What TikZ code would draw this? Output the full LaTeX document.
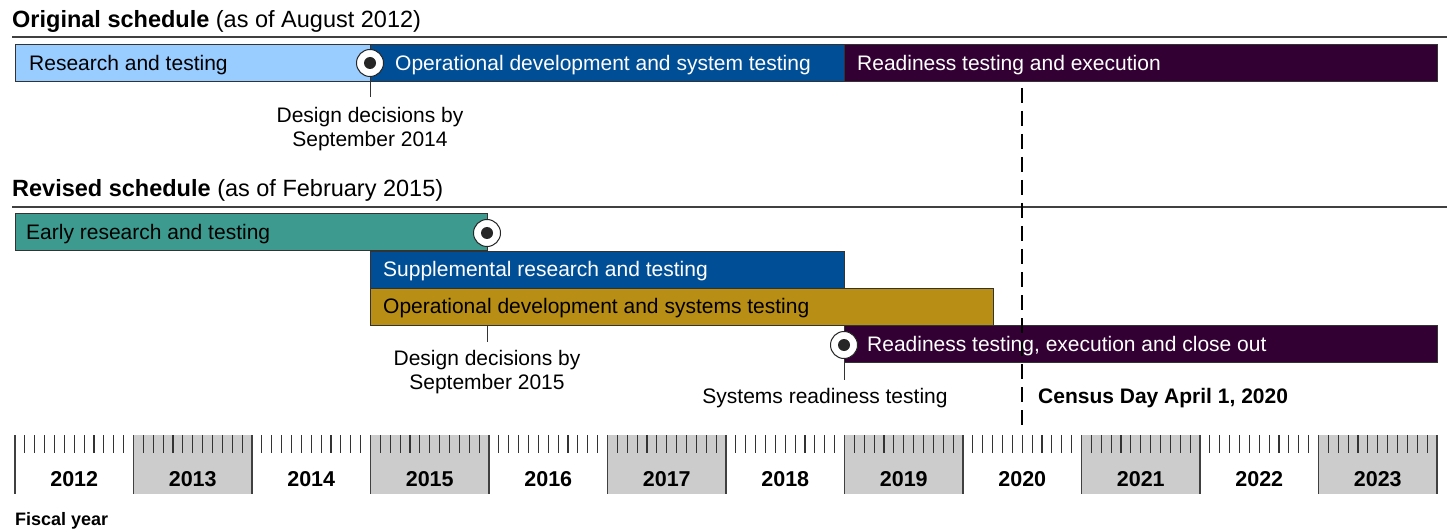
\documentclass[tikz,border=0pt]{standalone}
\usepackage{fontspec}
\setmainfont{Liberation Sans}
\definecolor{lblue}{HTML}{99CCFF}
\definecolor{dblue}{HTML}{004E96}
\definecolor{dpurple}{HTML}{330033}
\definecolor{teal2}{HTML}{3D9A8E}
\definecolor{gold2}{HTML}{B88E14}
\definecolor{cellgray}{HTML}{CCCCCC}
\definecolor{rulegray}{HTML}{404040}
\tikzset{
  bar/.style={draw=black!80, line width=0.8pt, anchor=north west, minimum height=37pt, inner sep=0pt},
  bartext/.style={anchor=west, inner sep=0pt, font=\fontsize{21}{24}\selectfont},
  title/.style={anchor=west, inner sep=0pt, font=\fontsize{23.5}{26}\selectfont},
  lab/.style={align=center, inner sep=0pt, font=\fontsize{21}{24}\selectfont},
  msring/.style={circle, draw=black!85, line width=1pt, fill=white, minimum size=27pt, inner sep=0pt},
  msdot/.style={circle, fill=black!85, minimum size=12pt, inner sep=0pt},
  stem/.style={draw=black!80, line width=1pt},
  hrule/.style={draw=rulegray, line width=1.3pt},
  yearlab/.style={inner sep=0pt, font=\fontsize{21.5}{24}\selectfont\bfseries},
  tick/.style={draw=black!80, line width=1.1pt},
  ybound/.style={draw=black!75, line width=1.4pt},
  census/.style={draw=black, line width=2.5pt, dash pattern=on 15pt off 8pt}
}
\begin{document}
\begin{tikzpicture}[x=1pt,y=-1pt]
\useasboundingbox (0,0) rectangle (1447,529);

% ---------------- Original schedule
\node[title] (t1) at (12,21) {\textbf{Original schedule} (as of August 2012)};
\coordinate (r1a) at (12,37);
\coordinate (r1b) at (1447,37);
\draw[hrule] (r1a) -- (r1b);

\node[bar, fill=lblue, minimum width=355pt] (o1) at (15,44) {};
\node[bar, fill=dblue, minimum width=474pt] (o2) at (370,44) {};
\node[bar, fill=dpurple, minimum width=593pt] (o3) at (844,44) {};
\node[bartext] (o1t) at (29,65) {Research and testing};
\node[bartext, text=white] (o2t) at (395,65) {Operational development and system testing};
\node[bartext, text=white] (o3t) at (857,65) {Readiness testing and execution};

\coordinate (s1b) at (370,97);
\draw[stem] (o2.south west) -- (s1b);
\node[msring] (m1) at (370,63) {};
\node[msdot] (m1d) at (m1.center) {};
\node[lab] (l1) at (370,129) {Design decisions by\\September 2014};

% ---------------- Revised schedule
\node[title] (t2) at (12,190) {\textbf{Revised schedule} (as of February 2015)};
\coordinate (r2a) at (12,207);
\coordinate (r2b) at (1447,207);
\draw[hrule] (r2a) -- (r2b);

\node[bar, fill=teal2, minimum width=472pt] (n1) at (15,213) {};
\node[bar, fill=dblue, minimum width=474pt] (n2) at (370,251) {};
\node[bar, fill=gold2, minimum width=623pt] (n3) at (370,288) {};
\node[bar, fill=dpurple, minimum width=593pt] (n4) at (844,325) {};
\node[bartext] (n1t) at (26,234) {Early research and testing};
\node[bartext, text=white] (n2t) at (383,271) {Supplemental research and testing};
\node[bartext] (n3t) at (383,308) {Operational development and systems testing};
\node[bartext, text=white] (n4t) at (867,346) {Readiness testing, execution and close out};

\node[msring] (m2) at (487,233) {};
\node[msdot] (m2d) at (m2.center) {};
\coordinate (s2a) at (487,325);
\coordinate (s2b) at (487,342);
\draw[stem] (s2a) -- (s2b);
\node[lab] (l2) at (487,372) {Design decisions by\\September 2015};

\coordinate (s3b) at (844,380);
\draw[stem] (n4.south west) -- (s3b);
\node[msring] (m3) at (844,345) {};
\node[msdot] (m3d) at (m3.center) {};
\node[lab] (l3) at (825,398) {Systems readiness testing};

% ---------------- Census day
\coordinate (cd1) at (1022,88);
\coordinate (cd2) at (1022,430);
\draw[census] (cd1) -- (cd2);
\node[anchor=west, inner sep=0pt, font=\fontsize{21}{24}\selectfont\bfseries] (cl) at (1038,398) {Census Day April 1, 2020};

% ---------------- Timeline
\foreach \i [evaluate=\i as \xa using 15+118.5*\i, evaluate=\i as \yr using int(2012+\i)] in {0,...,11} {
  \ifodd\i
    \fill[cellgray] (\xa,435) rectangle (\xa+118.5,494);
  \fi
  \foreach \k in {1,...,11} {
    \draw[tick] (\xa+9.875*\k,435) -- (\xa+9.875*\k,453);
  }
  \node[yearlab] (y\yr) at (\xa+59.25,479) {\yr};
}
\foreach \i [evaluate=\i as \xa using 15+118.5*\i] in {0,...,12} {
  \draw[ybound] (\xa,435) -- (\xa,494);
}
\node[anchor=west, inner sep=0pt, font=\fontsize{18}{20}\selectfont\bfseries] (fy) at (15,521) {Fiscal year};
\end{tikzpicture}
\end{document}
